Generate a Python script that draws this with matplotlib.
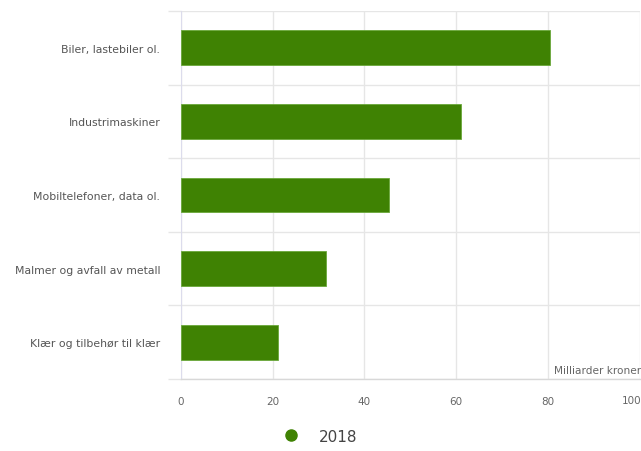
import matplotlib
matplotlib.use("Agg")
import matplotlib.pyplot as plt
from matplotlib.lines import Line2D
import numpy as np

plt.rcParams['font.family'] = ['DejaVu Sans']

categories = ["Biler, lastebiler ol.", "Industrimaskiner", "Mobiltelefoner, data ol.",
              "Malmer og avfall av metall", "Klær og tilbehør til klær"]
values_2018 = [80.5, 61.1, 45.4, 31.6, 21.2]
x_ticks = [0, 20, 40, 60, 80, 100]
series_name = "2018"
axis_title = "Milliarder kroner"

green = "#3f8203"
grid_c = "#e6e6e6"
text_c = "#666666"

fig = plt.figure(figsize=(6.41, 4.52), dpi=100)
ax = fig.add_axes([181/641, 1-380/452, (639.5-181)/641, (380-12)/452])

y = np.arange(len(categories))
ax.barh(y, values_2018, height=0.475, color=green, edgecolor="#6aa83a", linewidth=0.6, zorder=3)

ax.set_xlim(0, 100)
ax.set_ylim(len(categories)-0.5, -0.5)
ax.set_xticks(x_ticks)
# last label is drawn separately so it stays inside the figure
ax.set_xticklabels([str(t) for t in x_ticks[:-1]] + [""], fontsize=7.5, color=text_c)
ax.annotate(str(x_ticks[-1]), xy=(x_ticks[-1], 0), xycoords=('data', 'axes fraction'),
            xytext=(1.5, -21.5), textcoords='offset pixels', ha='right', va='center',
            fontsize=7.5, color=text_c)
ax.set_yticks(y)
ax.set_yticklabels(categories, fontsize=7.8, color="#555555")
ax.set_yticks(np.arange(-0.5, len(categories)), minor=True)

ax.tick_params(axis='x', length=0, pad=12)
ax.tick_params(axis='y', which='major', length=0, pad=15)
ax.tick_params(axis='y', which='minor', length=9.5, color=grid_c, width=1)

ax.grid(axis='x', color=grid_c, linewidth=1, zorder=0)
ax.grid(axis='y', which='minor', color=grid_c, linewidth=1, zorder=0)

for s in ['top', 'right']:
    ax.spines[s].set_visible(False)
ax.spines['left'].set_color("#dcdcec")
ax.spines['bottom'].set_color("#d8d8d8")
ax.spines['bottom'].set_linewidth(1)

ax.text(1.003, 0.012, axis_title, transform=ax.transAxes, ha='right', va='bottom',
        fontsize=7.6, color=text_c)

handle = Line2D([], [], marker='o', linestyle='none', color=green, markersize=8)
fig.legend([handle], [series_name], loc='center', bbox_to_anchor=(0.494, 0.033),
           frameon=False, fontsize=11, labelcolor="#444444", handletextpad=0.8)

fig.savefig("out.png", dpi=100)
